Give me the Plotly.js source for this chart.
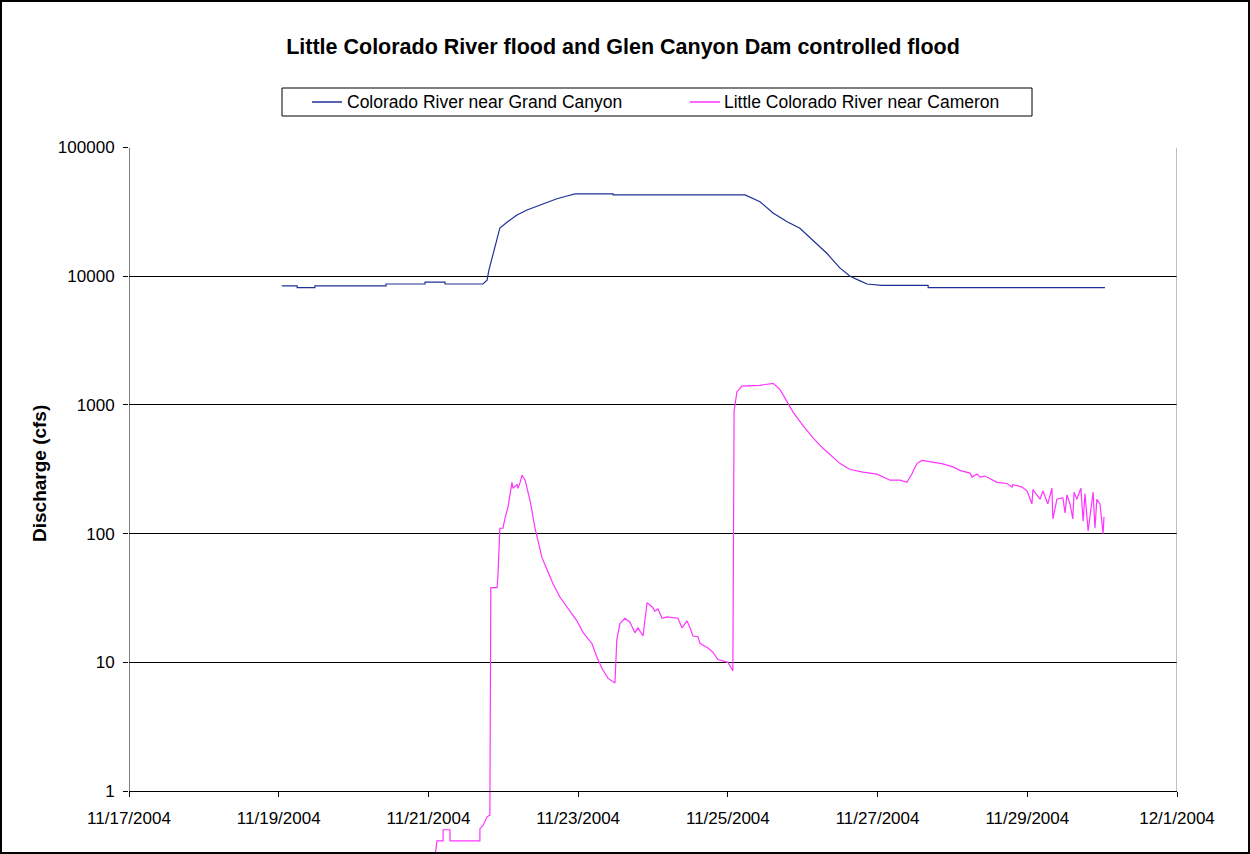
<!DOCTYPE html>
<html>
<head>
<meta charset="utf-8">
<script src="https://cdn.plot.ly/plotly-3.0.1.min.js"></script>
<style>
html,body{margin:0;padding:0;background:#ffffff;}
#chart{width:1250px;height:854px;}
</style>
</head>
<body>
<div id="chart"></div>
<script>
// ---- Data ----
const seriesNames = ['Colorado River near Grand Canyon', 'Little Colorado River near Cameron'];

const coloradoTimes = [
'2004-11-19 01:00','2004-11-19 05:54','2004-11-19 05:55','2004-11-19 11:36','2004-11-19 11:37',
'2004-11-20 10:24','2004-11-20 10:25','2004-11-20 22:54','2004-11-20 22:55','2004-11-21 05:18',
'2004-11-21 05:19','2004-11-21 17:30','2004-11-21 18:48','2004-11-21 19:24','2004-11-21 20:24',
'2004-11-21 22:00','2004-11-21 22:54','2004-11-22 01:30','2004-11-22 04:24','2004-11-22 07:36',
'2004-11-22 10:48','2004-11-22 14:00','2004-11-22 17:12','2004-11-22 20:24','2004-11-22 23:00',
'2004-11-23 11:12','2004-11-23 11:13','2004-11-25 05:30','2004-11-25 07:42','2004-11-25 10:18',
'2004-11-25 14:30','2004-11-25 19:00','2004-11-25 23:06','2004-11-26 03:18','2004-11-26 07:48',
'2004-11-26 11:54','2004-11-26 15:12','2004-11-26 18:24','2004-11-26 20:36','2004-11-27 01:24',
'2004-11-27 16:12','2004-11-27 16:13','2004-11-30 00:54'];
const coloradoCfs = [
8400,8400,8150,8150,8400,
8400,8700,8700,9000,9000,
8700,8700,9300,11200,13800,
19000,23700,26600,29900,32700,
35100,37700,40000,42000,43600,
43600,42800,42800,40500,37900,
31000,26500,23600,19100,15000,
11600,10000,9200,8700,8500,
8500,8150,8150];

const littleTimes = [
'2004-11-21 02:06','2004-11-21 02:45','2004-11-21 04:42','2004-11-21 04:43','2004-11-21 06:54',
'2004-11-21 06:55','2004-11-21 16:30','2004-11-21 16:31','2004-11-21 17:30','2004-11-21 18:48',
'2004-11-21 19:42','2004-11-21 20:00','2004-11-21 22:00','2004-11-21 22:18','2004-11-21 22:54',
'2004-11-21 23:54','2004-11-22 00:30','2004-11-22 01:30','2004-11-22 02:48','2004-11-22 03:06',
'2004-11-22 04:24','2004-11-22 04:42','2004-11-22 05:24','2004-11-22 06:00','2004-11-22 07:00',
'2004-11-22 08:36','2004-11-22 10:12','2004-11-22 11:06','2004-11-22 12:24','2004-11-22 14:24',
'2004-11-22 15:54','2004-11-22 18:12','2004-11-22 20:24','2004-11-22 23:36','2004-11-23 01:36',
'2004-11-23 04:24','2004-11-23 06:00','2004-11-23 07:36','2004-11-23 09:36','2004-11-23 11:48',
'2004-11-23 12:24','2004-11-23 13:24','2004-11-23 15:00','2004-11-23 16:36','2004-11-23 18:12',
'2004-11-23 19:12','2004-11-23 20:48','2004-11-23 22:06','2004-11-23 23:42','2004-11-24 00:36',
'2004-11-24 01:36','2004-11-24 02:54','2004-11-24 04:30','2004-11-24 08:00','2004-11-24 09:18',
'2004-11-24 10:54','2004-11-24 11:54','2004-11-24 12:48','2004-11-24 14:24','2004-11-24 15:06',
'2004-11-24 17:36','2004-11-24 19:12','2004-11-24 20:48','2004-11-25 00:00','2004-11-25 01:36',
'2004-11-25 02:00','2004-11-25 02:54','2004-11-25 04:30','2004-11-25 10:18','2004-11-25 14:30',
'2004-11-25 16:42','2004-11-25 19:00','2004-11-25 20:54','2004-11-26 00:06','2004-11-26 03:18',
'2004-11-26 06:30','2004-11-26 09:24','2004-11-26 12:00','2004-11-26 15:12','2004-11-26 19:18',
'2004-11-26 23:48','2004-11-27 04:00','2004-11-27 07:12','2004-11-27 09:24','2004-11-27 11:00',
'2004-11-27 12:36','2004-11-27 14:12','2004-11-27 17:48','2004-11-27 20:36','2004-11-28 00:12',
'2004-11-28 02:24','2004-11-28 05:36','2004-11-28 06:18','2004-11-28 07:54','2004-11-28 08:48',
'2004-11-28 10:24','2004-11-28 14:18','2004-11-28 17:30','2004-11-28 19:06','2004-11-28 19:24',
'2004-11-28 22:18','2004-11-28 23:54','2004-11-29 00:12','2004-11-29 01:30','2004-11-29 01:48',
'2004-11-29 03:06','2004-11-29 04:06','2004-11-29 05:00','2004-11-29 06:36','2004-11-29 07:54',
'2004-11-29 08:12','2004-11-29 09:30','2004-11-29 11:24','2004-11-29 12:06','2004-11-29 12:42',
'2004-11-29 13:42','2004-11-29 14:36','2004-11-29 15:00','2004-11-29 15:54','2004-11-29 17:12',
'2004-11-29 17:54','2004-11-29 18:30','2004-11-29 19:30','2004-11-29 21:06','2004-11-29 21:42',
'2004-11-29 22:18','2004-11-29 23:18','2004-11-30 00:18','2004-11-30 00:36'];
const littleCfs = [
0.31,0.41,0.41,0.50,0.50,
0.41,0.41,0.51,0.54,0.63,
0.65,38,38,48,110,
110,130,160,250,225,
240,225,250,285,260,
180,110,88,65,50,
41,32,27,21,17,
14,11,9.0,7.5,6.9,
15,20,22,20.5,17,
18.5,16,29,27,25,
26,22,22.5,22,18.5,
21,18.5,16,15.8,14,
12.9,12,10.5,10,8.6,
900,1260,1400,1420,1470,
1320,1050,880,690,555,
460,400,350,315,300,
290,260,260,250,290,
350,370,360,350,330,
310,295,275,290,275,
280,250,245,230,240,
230,215,205,170,220,
200,185,215,170,225,
130,185,190,145,200,
170,130,210,185,225,
125,205,105,210,110,
185,170,100,135];

const xTickDates = ['2004-11-17','2004-11-19','2004-11-21','2004-11-23','2004-11-25','2004-11-27','2004-11-29','2004-12-01'];
const xTickLabels = ['11/17/2004','11/19/2004','11/21/2004','11/23/2004','11/25/2004','11/27/2004','11/29/2004','12/1/2004'];
const yTickValues = [1,10,100,1000,10000,100000];
const yTickLabels = ['1','10','100','1000','10000','100000'];
const xRange = ['2004-11-17','2004-12-01'];

// ---- Geometry (figure pixels) ----
const W = 1250, H = 854;
const plotLeft = 129, plotRight = 1177, plotTop = 147.5, plotOne = 791;
const decadePx = (plotOne - plotTop) / 5;
const yBottomLog = 5 - (H - plotTop) / decadePx;
const px = v => v / W;
const py = v => 1 - v / H;

const FONT = 'Liberation Sans, Arial, sans-serif';
const colors = ['#1f2f96', '#ff33ff'];

const traces = [
  {x: coloradoTimes, y: coloradoCfs, name: seriesNames[0], type: 'scatter', mode: 'lines',
   line: {color: colors[0], width: 1.2}},
  {x: littleTimes, y: littleCfs, name: seriesNames[1], type: 'scatter', mode: 'lines',
   line: {color: colors[1], width: 1.2}}
];

const legX = 282, legX2 = 1032, legY = 88, legY2 = 116, legMid = 102;

const layout = {
  width: W, height: H,
  margin: {l: 0, r: 0, t: 0, b: 0, pad: 0},
  paper_bgcolor: '#ffffff', plot_bgcolor: '#ffffff',
  showlegend: false,
  font: {family: FONT, color: '#000000', size: 17},
  title: {text: '<b>Little Colorado River flood and Glen Canyon Dam controlled flood</b>',
          font: {family: FONT, size: 21.5, color: '#000'},
          x: px(623), xref: 'paper', xanchor: 'center', y: py(46), yref: 'container', yanchor: 'middle'},
  xaxis: {
    type: 'date', range: xRange, domain: [px(plotLeft), px(plotRight)],
    anchor: 'free', position: (H - plotOne) / H,
    tickmode: 'array', tickvals: xTickDates, ticktext: xTickLabels,
    ticks: 'outside', ticklen: 5, tickcolor: '#000', tickwidth: 1, ticklabelstandoff: 7,
    showline: true, linecolor: '#000', linewidth: 1,
    showgrid: false, zeroline: false,
    tickfont: {family: FONT, size: 17, color: '#000'}
  },
  yaxis: {
    type: 'log', range: [yBottomLog, 5], domain: [0, py(plotTop)],
    tickmode: 'array', tickvals: yTickValues, ticktext: yTickLabels,
    ticks: 'outside', ticklen: 5, tickcolor: '#000', tickwidth: 1, ticklabelstandoff: 5,
    showline: false, showgrid: true, gridcolor: '#000', gridwidth: 1, zeroline: false,
    tickfont: {family: FONT, size: 17, color: '#000'}
  },
  shapes: [
    // y axis line and right border of plot area
    {type: 'line', xref: 'x', yref: 'y', x0: xRange[0], x1: xRange[0], y0: 1, y1: 100000, line: {color: '#000', width: 1}},
    {type: 'line', xref: 'x', yref: 'y', x0: xRange[1], x1: xRange[1], y0: 1, y1: 100000, line: {color: '#808080', width: 1}},
    // legend box
    {type: 'rect', xref: 'paper', yref: 'paper', x0: px(legX), x1: px(legX2), y0: py(legY2), y1: py(legY), line: {color: '#000', width: 1}, fillcolor: 'rgba(0,0,0,0)'},
    {type: 'line', xref: 'paper', yref: 'paper', x0: px(312), x1: px(342), y0: py(legMid), y1: py(legMid), line: {color: colors[0], width: 1.5}},
    {type: 'line', xref: 'paper', yref: 'paper', x0: px(690), x1: px(720), y0: py(legMid), y1: py(legMid), line: {color: colors[1], width: 1.5}},
    // outer chart border
    {type: 'rect', xref: 'paper', yref: 'paper', x0: px(1), x1: px(W - 1), y0: py(H - 1), y1: py(1), line: {color: '#000', width: 2}, fillcolor: 'rgba(0,0,0,0)'}
  ],
  annotations: [
    {text: seriesNames[0], xref: 'paper', yref: 'paper', x: px(345), y: py(legMid), xanchor: 'left', yanchor: 'middle', showarrow: false, font: {family: FONT, size: 17.5, color: '#000'}},
    {text: seriesNames[1], xref: 'paper', yref: 'paper', x: px(722), y: py(legMid), xanchor: 'left', yanchor: 'middle', showarrow: false, font: {family: FONT, size: 17.5, color: '#000'}},
    {text: '<b>Discharge (cfs)</b>', xref: 'paper', yref: 'paper', x: px(40), y: py(474), xanchor: 'center', yanchor: 'middle', textangle: -90, showarrow: false, font: {family: FONT, size: 19, color: '#000'}}
  ]
};

Plotly.newPlot('chart', traces, layout, {displayModeBar: false, staticPlot: true});
</script>
</body>
</html>
